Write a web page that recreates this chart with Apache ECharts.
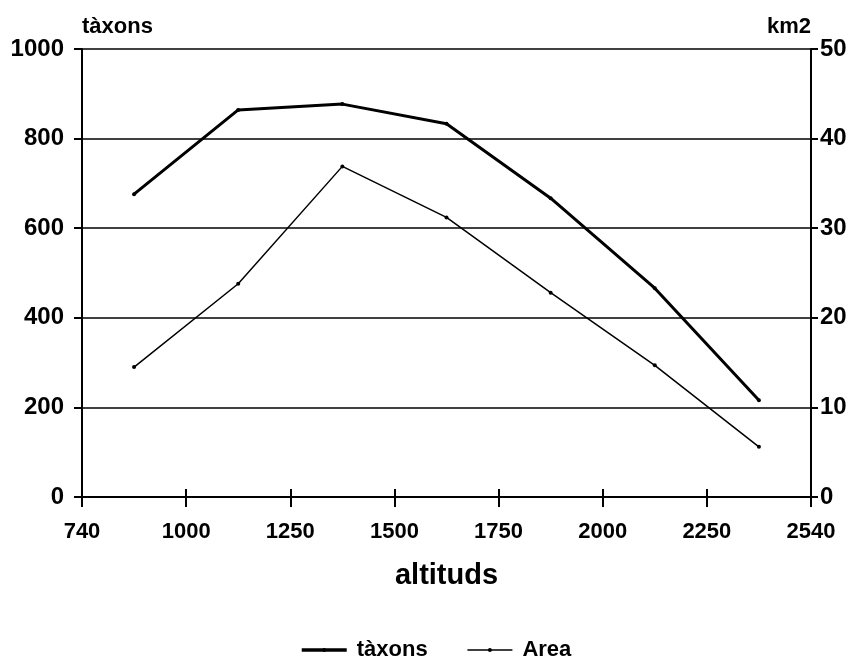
<!DOCTYPE html>
<html>
<head>
<meta charset="utf-8">
<script src="https://cdn.jsdelivr.net/npm/echarts@6/dist/echarts.min.js"></script>
<style>
html,body{margin:0;padding:0;background:#fff;}
#chart{width:863px;height:659px;}
</style>
</head>
<body>
<div id="chart"></div>
<script>
// Data
const altitudes = [875, 1125, 1375, 1625, 1875, 2125, 2375];
const taxons = [676, 864, 877, 833, 667, 466, 216];
const area = [14.5, 23.8, 36.9, 31.2, 22.8, 14.7, 5.6];
const xTickLabels = ['740', '1000', '1250', '1500', '1750', '2000', '2250', '2540'];
const leftTickLabels = ['0', '200', '400', '600', '800', '1000'];
const rightTickLabels = ['0', '10', '20', '30', '40', '50'];

const FONT = '"Liberation Sans", Arial, Helvetica, sans-serif';
const chart = echarts.init(document.getElementById('chart'), null, {renderer: 'canvas'});

const xMin = 750, xMax = 2500, xStep = 250;
const txt = {color: '#000', fontFamily: FONT, fontWeight: 'bold', fontSize: 22};

chart.setOption({
  animation: false,
  backgroundColor: '#fff',
  grid: {left: 82, right: 52, top: 49, bottom: 162, containLabel: false},
  legend: {
    top: 634, left: 295,
    itemWidth: 45, itemHeight: 5, itemGap: 39,
    textStyle: Object.assign({}, txt, {fontSize: 22, padding: [0, 0, 0, 5]}),
    data: [
      {name: 'tàxons', lineStyle: {width: 3.5, color: '#000'}, itemStyle: {color: '#000'}},
      {name: 'Area', lineStyle: {width: 1.5, color: '#000'}, itemStyle: {color: '#000'}}
    ]
  },
  xAxis: [{
    type: 'value', min: xMin, max: xMax, interval: xStep, position: 'bottom',
    name: 'altituds', nameLocation: 'middle', nameGap: 64,
    nameTextStyle: {color: '#000', fontFamily: FONT, fontWeight: 'bold', fontSize: 29},
    axisLine: {show: true, onZero: false, lineStyle: {color: '#000', width: 2}},
    axisTick: {show: true, inside: false, length: 10, lineStyle: {color: '#000', width: 2}},
    axisLabel: Object.assign({}, txt, {margin: 24, formatter: v => xTickLabels[Math.round((v - xMin) / xStep)]}),
    splitLine: {show: false}
  }, {
    type: 'value', min: xMin, max: xMax, interval: xStep, position: 'bottom',
    axisLine: {show: false},
    axisTick: {show: true, inside: true, length: 8, lineStyle: {color: '#000', width: 2}},
    axisLabel: {show: false},
    splitLine: {show: false}
  }],
  yAxis: [{
    type: 'value', min: 0, max: 1000, interval: 200, position: 'left',
    name: 'tàxons', nameLocation: 'end', nameGap: 11,
    nameTextStyle: Object.assign({}, txt, {fontSize: 22, align: 'left', padding: [0, 0, 0, 0]}),
    axisLine: {show: true, lineStyle: {color: '#000', width: 2}},
    axisTick: {show: true, inside: false, length: 8, lineStyle: {color: '#000', width: 2}},
    axisLabel: Object.assign({}, txt, {fontSize: 24, margin: 18, formatter: v => leftTickLabels[Math.round(v / 200)]}),
    splitLine: {show: true, lineStyle: {color: '#000', width: 1.5}}
  }, {
    type: 'value', min: 0, max: 50, interval: 10, position: 'right',
    name: 'km2', nameLocation: 'end', nameGap: 11,
    nameTextStyle: Object.assign({}, txt, {fontSize: 22, align: 'right', padding: [0, 0, 0, 0]}),
    axisLine: {show: true, lineStyle: {color: '#000', width: 2}},
    axisTick: {show: true, inside: false, length: 7, lineStyle: {color: '#000', width: 2}},
    axisLabel: Object.assign({}, txt, {fontSize: 24, margin: 9, formatter: v => rightTickLabels[Math.round(v / 10)]}),
    splitLine: {show: false}
  }],
  series: [{
    name: 'tàxons', type: 'line', xAxisIndex: 0, yAxisIndex: 0,
    data: altitudes.map((x, i) => [x, taxons[i]]),
    symbol: 'circle', symbolSize: 4, showSymbol: true,
    lineStyle: {color: '#000', width: 3},
    itemStyle: {color: '#000'}
  }, {
    name: 'Area', type: 'line', xAxisIndex: 0, yAxisIndex: 1,
    data: altitudes.map((x, i) => [x, area[i]]),
    symbol: 'circle', symbolSize: 4, showSymbol: true,
    lineStyle: {color: '#000', width: 1.5},
    itemStyle: {color: '#000'}
  }]
});
</script>
</body>
</html>
